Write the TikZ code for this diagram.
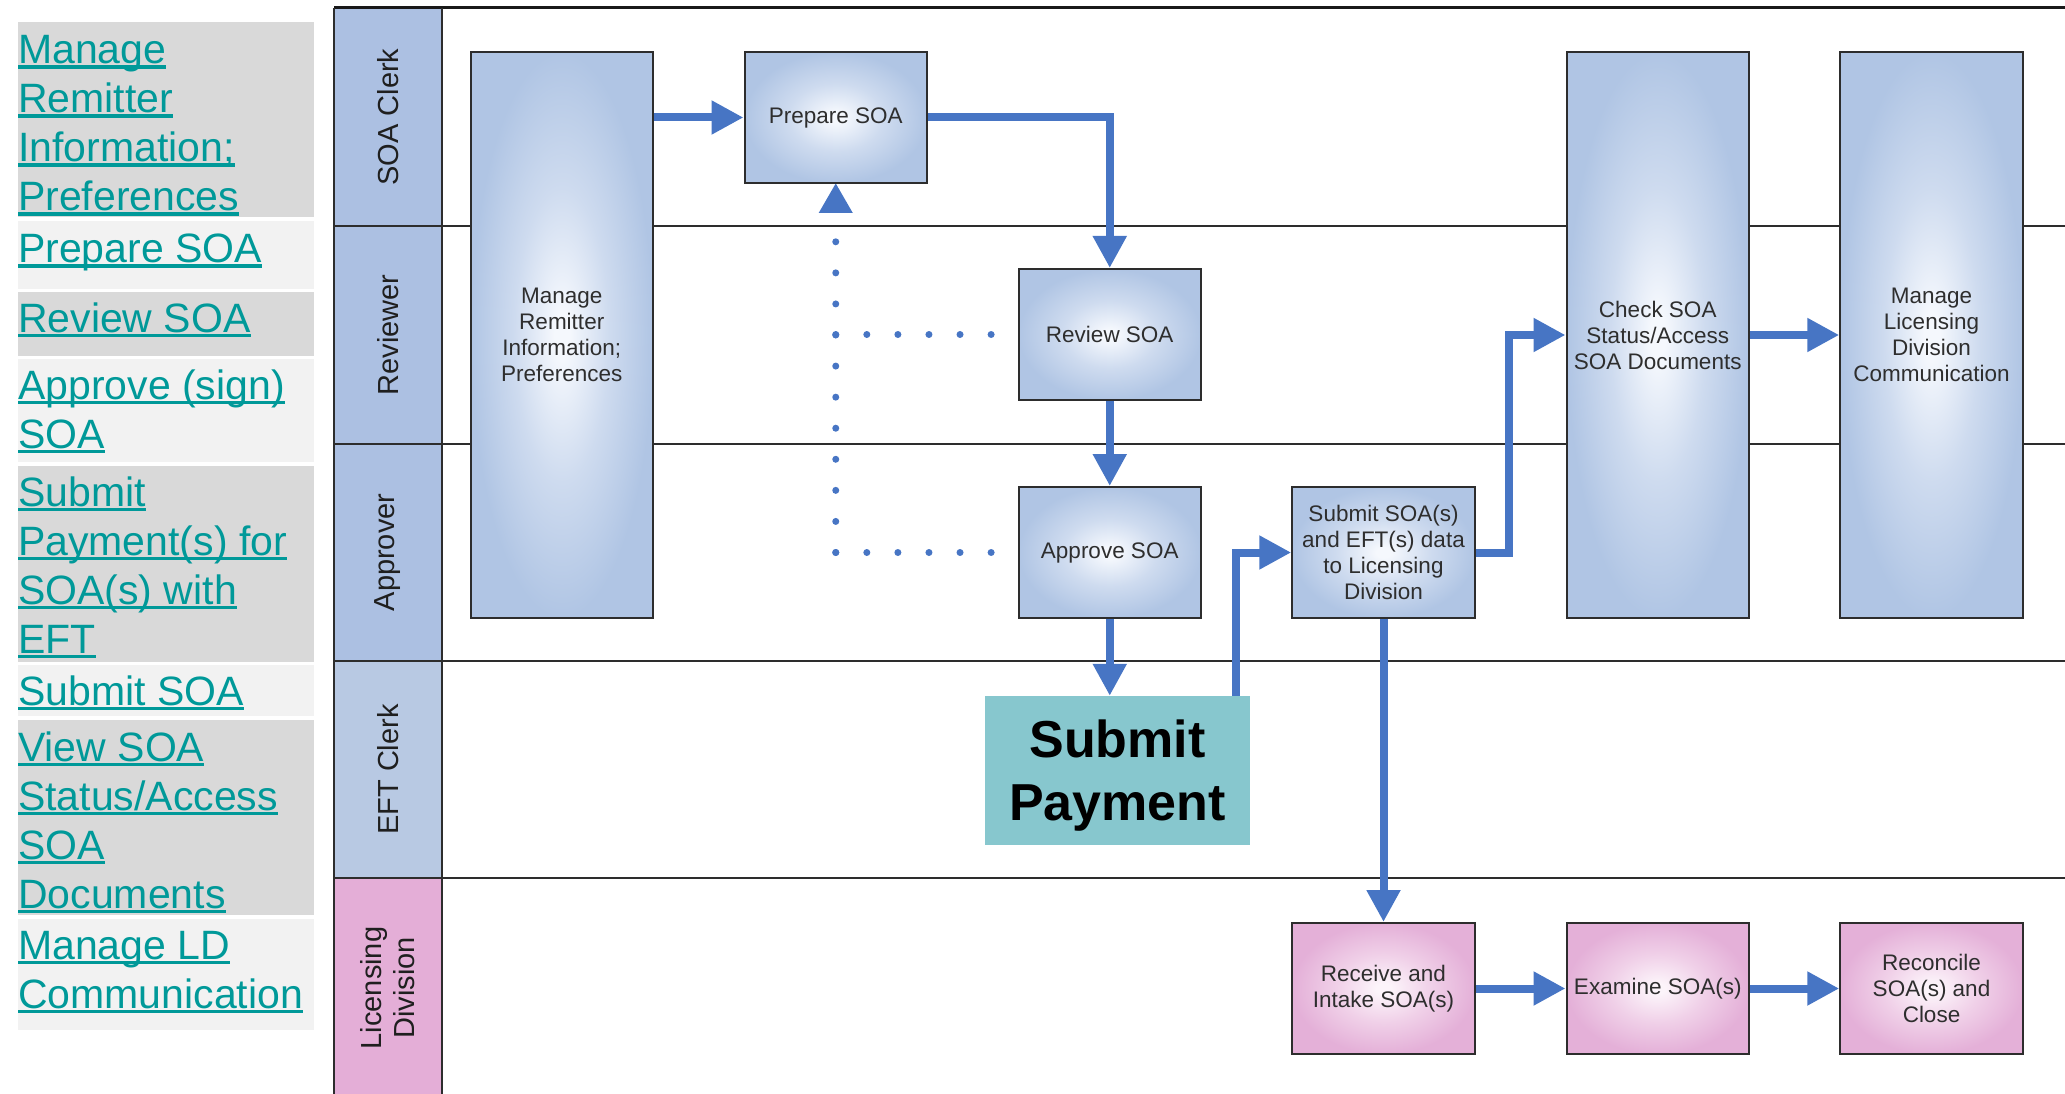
\documentclass[tikz,border=0pt]{standalone}
\usepackage{fontspec}
\setmainfont{Liberation Sans}
\usetikzlibrary{arrows.meta,calc}
\definecolor{linkc}{RGB}{0,153,153}
\definecolor{rowa}{RGB}{217,217,217}
\definecolor{rowb}{RGB}{242,242,242}
\definecolor{hdblue}{RGB}{172,192,226}
\definecolor{hdeft}{RGB}{184,201,227}
\definecolor{hdpink}{RGB}{228,174,215}
\definecolor{arrc}{RGB}{71,117,196}
\definecolor{bin}{RGB}{245,248,253}
\definecolor{bmid}{RGB}{206,219,239}
\definecolor{bout}{RGB}{176,197,228}
\definecolor{pin}{RGB}{252,244,250}
\definecolor{pmid}{RGB}{240,208,232}
\definecolor{pout}{RGB}{228,176,216}
\definecolor{payc}{RGB}{135,199,206}
\definecolor{linec}{RGB}{45,45,45}
\pgfdeclareradialshading{blueglow}{\pgfpoint{0bp}{0bp}}{color(0bp)=(bin); color(2bp)=(bin); color(13bp)=(bmid); color(25bp)=(bout); color(50bp)=(bout)}
\pgfdeclareradialshading{pinkglow}{\pgfpoint{0bp}{0bp}}{color(0bp)=(pin); color(2bp)=(pin); color(13bp)=(pmid); color(25bp)=(pout); color(50bp)=(pout)}
\newcommand\ulk[1]{\setbox0=\hbox{#1}\rlap{\rule[-5pt]{\wd0}{3.5pt}}\box0}
\tikzset{
  lnktext/.style={anchor=base west, inner sep=0pt, align=left, text=linkc, font=\fontsize{41}{49}\selectfont},
  lanehd/.style={rotate=90, font=\fontsize{29}{33}\selectfont, text=black!88, align=center, inner sep=0pt},
  proc/.style={draw=linec, line width=2pt, minimum width=182.5pt, minimum height=131pt, text=black!82,
    font=\fontsize{22.5}{26}\selectfont, align=center, inner sep=0pt, shade, shading=blueglow},
  tallproc/.style={proc, minimum height=566pt},
  procpink/.style={proc, shading=pinkglow},
  flow/.style={draw=arrc, line width=8pt, -{Triangle[length=32pt,width=32pt]}},
  dotflow/.style={draw=arrc, line width=7pt, line cap=round, dash pattern=on 0pt off 31.07pt},
  lanel/.style={draw=linec, line width=2.5pt},
}
\begin{document}
\begin{tikzpicture}[x=1pt,y=-1pt]
\useasboundingbox (0,0) rectangle (2065,1094);
% left link table (text nodes placed at the baseline of their last line)
\fill[rowa] (18,22) rectangle (314,217);
\fill[rowb] (18,221) rectangle (314,289);
\fill[rowa] (18,292) rectangle (314,356);
\fill[rowb] (18,359) rectangle (314,462);
\fill[rowa] (18,466) rectangle (314,662);
\fill[rowb] (18,665) rectangle (314,716);
\fill[rowa] (18,720) rectangle (314,915);
\fill[rowb] (18,919) rectangle (314,1030);
\node[lnktext] (r1) at (18,211) {\ulk{Manage}\\\ulk{Remitter}\\\ulk{Information;}\\\ulk{Preferences}};
\node[lnktext] (r2) at (18,262.5) {\ulk{Prepare SOA}};
\node[lnktext] (r3) at (18,332) {\ulk{Review SOA}};
\node[lnktext] (r4) at (18,448) {\ulk{Approve (sign)}\\\ulk{SOA}};
\node[lnktext] (r5) at (18,653) {\ulk{Submit}\\\ulk{Payment(s) for}\\\ulk{SOA(s) with}\\\ulk{EFT}};
\node[lnktext] (r6) at (18,705) {\ulk{Submit SOA}};
\node[lnktext] (r7) at (18,908) {\ulk{View SOA}\\\ulk{Status/Access}\\\ulk{SOA}\\\ulk{Documents}};
\node[lnktext] (r8) at (18,1008) {\ulk{Manage LD}\\\ulk{Communication}};
% swimlane headers
\fill[hdblue] (334,8) rectangle (442,661);
\fill[hdeft] (334,661) rectangle (442,878);
\fill[hdpink] (334,878) rectangle (442,1094);
\draw[draw=black!90, line width=3pt] (334,8) -- (2065,8);
\foreach \yy in {226,444,661,878} \draw[lanel] (334,\yy) -- (2065,\yy);
\draw[lanel] (334,8) -- (334,1094);
\draw[lanel] (442,8) -- (442,1094);
\node[lanehd] (h1) at (388,117) {SOA Clerk};
\node[lanehd] (h2) at (388,335) {Reviewer};
\node[lanehd] (h3) at (388,552.5) {Approver};
\node[lanehd] (h4) at (388,769.5) {EFT Clerk};
\node[lanehd] (h5) at (388,988) {Licensing\\Division};
% named positions for dotted feedback lines (drawn before the boxes)
\coordinate (prepS) at (835.75,183);
\coordinate (revW) at (1018.5,334.5);
\coordinate (apprW) at (1018.5,552.5);
\draw[dotflow] (prepS |- revW) -- (revW);
\draw[dotflow] (prepS |- apprW) -- (apprW);
\draw[dotflow, -{Triangle[length=30pt,width=32pt]}] (prepS |- apprW) -- (prepS);
% process boxes
\node[tallproc] (mr) at (561.75,335) {Manage\\Remitter\\Information;\\Preferences};
\node[proc] (prep) at (835.75,117.5) {Prepare SOA};
\node[proc] (rev) at (1109.75,334.5) {Review SOA};
\node[proc] (appr) at (1109.75,552.5) {Approve SOA};
\node[proc] (sub) at (1383.5,552.5) {Submit SOA(s)\\and EFT(s) data\\to Licensing\\Division};
\node[tallproc] (check) at (1657.75,335) {Check SOA\\Status/Access\\SOA Documents};
\node[tallproc] (mld) at (1931.5,335) {Manage\\Licensing\\Division\\Communication};
\node[procpink] (recv) at (1383.5,988.5) {Receive and\\Intake SOA(s)};
\node[procpink] (exam) at (1657.75,988.5) {Examine SOA(s)};
\node[procpink] (reco) at (1931.5,988.5) {Reconcile\\SOA(s) and\\Close};
\node[fill=payc, minimum width=265pt, minimum height=149pt, inner sep=0pt] (pay) at (1117.5,770.5) {};
\node[inner sep=0pt, align=center, font=\fontsize{52}{63}\selectfont\bfseries]
  (paytxt) at ($(pay.center)+(0,5)$) {Submit\\Payment};
% connectors
\draw[flow] (mr.east |- prep.west) -- (prep.west);
\draw[flow] (prep.east) -| (rev.north);
\draw[flow] (rev.south) -- (appr.north);
\draw[flow] (appr.south) -- (appr.south |- pay.north);
\coordinate (payout) at ($(pay.north east)+(-14,0)$);
\draw[flow] (payout) |- (sub.west);
\draw[flow] (sub.south) -- (recv.north);
\coordinate (subturn) at ($(sub.east)+(33,0)$);
\draw[flow] (sub.east) -- (subturn) |- (check.west);
\draw[flow] (check.east) -- (mld.west);
\draw[flow] (recv.east) -- (exam.west);
\draw[flow] (exam.east) -- (reco.west);
\end{tikzpicture}
\end{document}
